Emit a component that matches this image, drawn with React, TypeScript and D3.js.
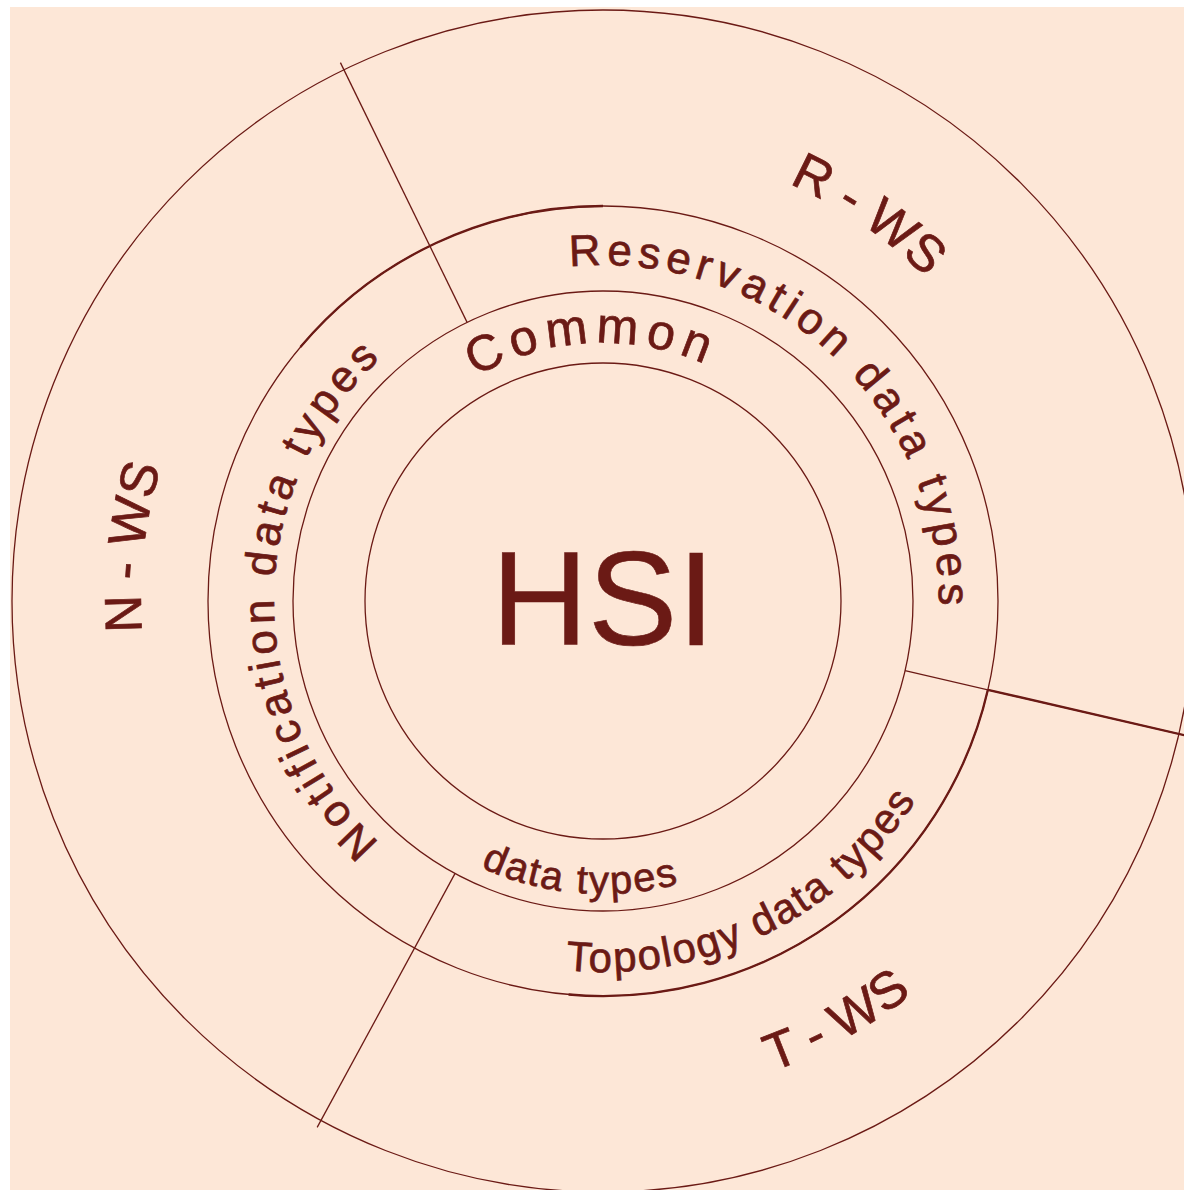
import React, { useEffect, useRef } from "react";
import * as d3 from "d3";

/* ---------------------------------------
   Diagram content
-----------------------------------------*/
const centerLabel = "HSI";
const commonLabels = ["Common", "data types"];
const commonAngles = [-2.5, 184.7];
const typeLabels = ["Reservation data types", "Topology data types", "Notification data types"];
const typeAngles = [43, 154, -89.5];
const serviceLabels = ["R - WS", "T - WS", "N - WS"];
const serviceAngles = [34.5, 151, -83.5];
// sector boundaries, degrees clockwise from 12 o'clock
const sectorBounds = [-26, 103, 208.5];

/* ---------------------------------------
   Layout
-----------------------------------------*/
const W = 1184;
const H = 1190;
const CX = 603;
const CY = 601;
const INK = "#6b1a15";
const PAPER = "#fde7d7";
const FONT = "'Liberation Sans', Arial, sans-serif";

// ring radii: core, common ring, data-type ring, service ring
const R_CORE = 238;
const R_COMMON = 310;
const R_TYPES = 395;
const R_OUTER = 591;

const rad = (deg) => (deg * Math.PI) / 180;

// baseline arc centred on an angle; flip = read along the bottom (tops inward)
function baselineArc(r, centerDeg, flip) {
  const p = d3.path();
  const c = rad(centerDeg - 90);
  const half = rad(85);
  if (!flip) p.arc(CX, CY, r, c - half, c + half, false);
  else p.arc(CX, CY, r, c + half, c - half, true);
  return p.toString();
}

function strokeArc(r, fromDeg, toDeg) {
  const p = d3.path();
  p.arc(CX, CY, r, rad(fromDeg - 90), rad(toDeg - 90), false);
  return p.toString();
}

const polar = (r, deg) => [CX + r * Math.sin(rad(deg)), CY - r * Math.cos(rad(deg))];

function drawDiagram(container) {
  d3.select(container).select("svg").remove();

  const svg = d3
    .select(container)
    .append("svg")
    .attr("width", W)
    .attr("height", H)
    .style("position", "absolute")
    .style("left", 0)
    .style("top", 0);

  svg
    .append("rect")
    .attr("x", 10)
    .attr("y", 7)
    .attr("width", W - 10)
    .attr("height", H - 7)
    .attr("fill", PAPER);

  const defs = svg.append("defs");
  const g = svg.append("g").attr("fill", "none").attr("stroke", INK);

  // circles
  [R_CORE, R_COMMON, R_TYPES, R_OUTER].forEach((r) => {
    g.append("circle").attr("cx", CX).attr("cy", CY).attr("r", r).attr("stroke-width", 1.3);
  });

  // heavier arc pieces on the data-type ring
  [[-50, 0], [103, 185]].forEach(([a0, a1]) => {
    g.append("path").attr("d", strokeArc(R_TYPES, a0, a1)).attr("stroke-width", 2.3);
  });

  // sector dividers
  sectorBounds.forEach((deg, i) => {
    const [x1, y1] = polar(R_COMMON, deg);
    const [x2, y2] = polar(R_OUTER + 8, deg);
    g.append("line")
      .attr("x1", x1)
      .attr("y1", y1)
      .attr("x2", x2)
      .attr("y2", y2)
      .attr("stroke-width", 1.3);
    if (i === 1) {
      const [x3, y3] = polar(R_TYPES, deg);
      g.append("line")
        .attr("x1", x3)
        .attr("y1", y3)
        .attr("x2", x2)
        .attr("y2", y2)
        .attr("stroke-width", 2.4);
    }
  });

  // centre label
  svg
    .append("text")
    .attr("x", CX)
    .attr("y", CY + 44)
    .attr("text-anchor", "middle")
    .style("font-family", FONT)
    .style("font-size", "134px")
    .attr("fill", INK)
    .attr("stroke", INK)
    .attr("stroke-width", 0.6)
    .text(centerLabel);

  // curved labels
  let idx = 0;
  function curved(text, r, deg, flip, size, spacing) {
    const id = `lbl-${idx++}`;
    defs.append("path").attr("id", id).attr("d", baselineArc(r, deg, flip));
    svg
      .append("text")
      .attr("text-anchor", "middle")
      .style("font-family", FONT)
      .style("font-size", `${size}px`)
      .style("letter-spacing", `${spacing}px`)
      .attr("fill", INK)
      .attr("stroke", INK)
      .attr("stroke-width", 0.7)
      .append("textPath")
      .attr("href", `#${id}`)
      .attr("startOffset", "50%")
      .text(text);
  }

  curved(commonLabels[0], 258, commonAngles[0], false, 50, 7);
  curved(commonLabels[1], 293, commonAngles[1], true, 40, 2);

  curved(typeLabels[0], 336, typeAngles[0], false, 44, 5.5);
  curved(typeLabels[1], 371, typeAngles[1], true, 42, 2);
  curved(typeLabels[2], 329, typeAngles[2], false, 44, 5);

  curved(serviceLabels[0], 457, serviceAngles[0], false, 52, 0);
  curved(serviceLabels[1], 500, serviceAngles[1], true, 52, 0);
  curved(serviceLabels[2], 462, serviceAngles[2], false, 52, 0);
}

const App = () => {
  const ref = useRef(null);

  useEffect(() => {
    drawDiagram(ref.current);
  }, []);

  return <div ref={ref} />;
};

export default App;
